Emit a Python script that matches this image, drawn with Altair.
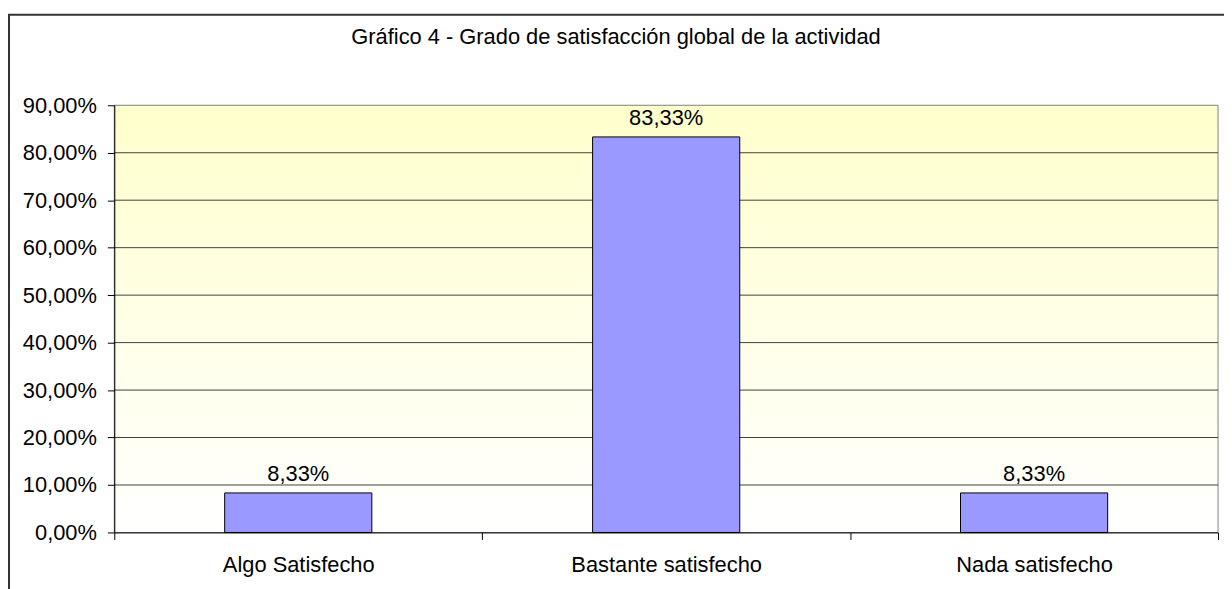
import altair as alt
import pandas as pd

# ---- data ----
categories = ["Algo Satisfecho", "Bastante satisfecho", "Nada satisfecho"]
values = [0.0833, 0.8333, 0.0833]
y_ticks = [0.0, 0.1, 0.2, 0.3, 0.4, 0.5, 0.6, 0.7, 0.8, 0.9]
grid_values = [0.1, 0.2, 0.3, 0.4, 0.5, 0.6, 0.7, 0.8]
title_text = ["Gráfico 4 - Grado de satisfacción global de la actividad"]

# ---- layout ----
W, H = 1111, 430
FONT = "Liberation Sans"
FS = 22

df = pd.DataFrame({"categoria": categories, "valor": values})
grid_df = pd.DataFrame({"valor": grid_values})
title_df = pd.DataFrame({"t": title_text})
one = pd.DataFrame({"a": [0]})

xscale = alt.Scale(domain=categories, paddingInner=0, paddingOuter=0)
yscale = alt.Scale(domain=[0, 0.9], nice=False)

y_axis = alt.Axis(values=y_ticks, format=".2%", labelFontSize=FS,
                  labelFont=FONT, labelColor="#000", tickSize=7,
                  tickColor="#000", domainColor="#000",
                  labelPadding=11, grid=False, zindex=1)

border = alt.Chart(one).mark_rect(
    fill="transparent", stroke="#333333", strokeWidth=2
).encode(
    x=alt.value(-106), x2=alt.value(W + 40),
    y=alt.value(-91), y2=alt.value(H + 120)
)

bg = alt.Chart(one).mark_rect(
    fill=alt.Gradient(
        gradient="linear", x1=0, x2=0, y1=0, y2=1,
        stops=[alt.GradientStop(color="#FFFFCC", offset=0),
               alt.GradientStop(color="#FFFFFF", offset=1)],
    ),
    stroke="#808080", strokeWidth=1,
).encode(x=alt.value(0), x2=alt.value(W), y=alt.value(0), y2=alt.value(H))

grid = alt.Chart(grid_df).mark_rule(color="#404040", strokeWidth=1).encode(
    y=alt.Y("valor:Q", scale=yscale, title=None, axis=y_axis)
)

bars = alt.Chart(df).mark_bar(
    width={"band": 0.4}, color="#9999FF", stroke="#000000", strokeWidth=1
).encode(
    x=alt.X("categoria:N", sort=categories, scale=xscale, title=None,
            axis=alt.Axis(labelAngle=0, labelFontSize=FS, labelFont=FONT,
                          labelColor="#000", tickBand="extent", tickSize=7,
                          tickColor="#000", domainColor="#000",
                          labelBaseline="alphabetic", labelPadding=32,
                          labelLimit=0, grid=False, zindex=1)),
    y=alt.Y("valor:Q", scale=yscale, title=None, axis=y_axis),
)

labels = alt.Chart(df).mark_text(
    font=FONT, fontSize=FS, color="#000", baseline="alphabetic", dy=-12
).encode(
    x=alt.X("categoria:N", sort=categories, scale=xscale),
    y=alt.Y("valor:Q", scale=yscale),
    text=alt.Text("valor:Q", format=".2%"),
)

title = alt.Chart(title_df).mark_text(
    font=FONT, fontSize=FS, color="#000", baseline="alphabetic", align="center"
).encode(x=alt.value(505), y=alt.value(-62), text="t:N")

chart = alt.layer(border, bg, grid, bars, labels, title).properties(
    width=W, height=H,
    autosize=alt.AutoSizeParams(type="none"),
    padding={"left": 107, "top": 96, "right": 6, "bottom": 55},
    background="white",
).configure(
    locale=alt.Locale(number=alt.NumberLocale(
        decimal=",", thousands=".", grouping=[3], currency=["", " €"]))
).configure_view(stroke=None)

chart.save("out.html", embed_options={"renderer": "svg", "actions": False})
